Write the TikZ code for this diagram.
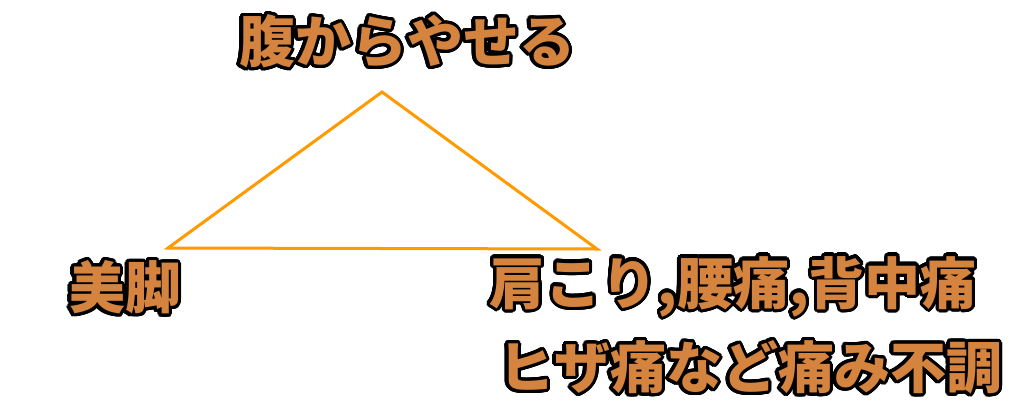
\documentclass[tikz,border=0pt]{standalone}
\usepackage{fontspec}
\IfFontExistsTF{Noto Sans CJK JP Black}{\def\jpname{Noto Sans CJK JP Black}}{%
  \IfFontExistsTF{Noto Sans CJK JP Bold}{\def\jpname{Noto Sans CJK JP Bold}}{\def\jpname{Noto Sans CJK JP}}}
\newfontfamily\jp{\jpname}
\usepackage[copies]{contour}
\contourlength{3.2pt}
\contournumber{32}
\definecolor{txtfill}{HTML}{D4843E}
\definecolor{triline}{HTML}{FF9A00}
\tikzset{
  lbl/.style={inner sep=0pt, text=txtfill, font=\jp\fontsize{56}{60}\selectfont},
  triedge/.style={draw=triline, line width=3pt, line join=miter}
}
\begin{document}
\begin{tikzpicture}[x=1pt,y=-1pt]
\useasboundingbox (0,0) rectangle (1024,415);
\coordinate (A) at (382,92);
\coordinate (B) at (168,248);
\coordinate (C) at (597,249);
\draw[triedge] (A) -- (B) -- (C) -- cycle;
\node[lbl] (top) at (407,43) {\contour{black}{腹からやせる}};
\node[lbl] (left) at (125,289) {\contour{black}{美脚}};
\node[lbl] (r1) at (733,288) {\contour{black}{肩こり,腰痛,背中痛}};
\node[lbl] (r2) at (750,369) {\contour{black}{ヒザ痛など痛み不調}};
\end{tikzpicture}
\end{document}
